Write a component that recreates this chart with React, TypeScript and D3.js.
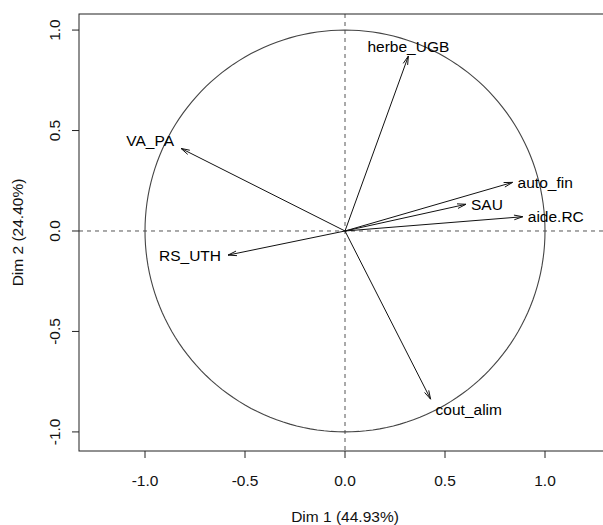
import React from "react";
import * as d3 from "d3";

// ---- data ----
const variables = ["herbe_UGB", "VA_PA", "auto_fin", "SAU", "aide.RC", "RS_UTH", "cout_alim"];
const dim1 = [0.317, -0.82, 0.838, 0.605, 0.889, -0.585, 0.428];
const dim2 = [0.871, 0.411, 0.242, 0.133, 0.071, -0.12, -0.837];
const labelSide = ["top", "left", "right", "right", "right", "left", "right"];
const xTicks = [-1.0, -0.5, 0.0, 0.5, 1.0];
const yTicks = [-1.0, -0.5, 0.0, 0.5, 1.0];
const xTitle = "Dim 1 (44.93%)";
const yTitle = "Dim 2 (24.40%)";

// ---- layout / style ----
const W = 603;
const H = 525;
const left = 79;
const right = 611;
const top = 14;
const bottom = 451;
const FONT = "'Liberation Sans', Arial, sans-serif";
const FS = 15.5;
const labelNudge: Record<string, [number, number]> = {
  VA_PA: [0, -8],
  cout_alim: [0, 10],
};

export default function App() {
  const x = d3.scaleLinear().domain([-1.33, 1.33]).range([left, right]);
  const y = d3.scaleLinear().domain([-1.095, 1.08]).range([bottom, top]);

  const circlePts = d3.range(0, 361, 2).map((a) => {
    const r = (a * Math.PI) / 180;
    return [x(Math.cos(r)), y(Math.sin(r))] as [number, number];
  });
  const circlePath = d3.line()(circlePts) || "";

  const headLen = 9;
  const headAng = (15 * Math.PI) / 180;

  return (
    <div style={{ position: "absolute", left: 0, top: 0 }}>
      <svg width={W} height={H} style={{ display: "block", background: "#fff" }}>
        <rect x={0} y={0} width={W} height={H} fill="#fff" />
        {/* dashed axes */}
        <line x1={left} x2={right} y1={y(0)} y2={y(0)} stroke="#555" strokeDasharray="4,4" strokeWidth={1} />
        <line x1={x(0)} x2={x(0)} y1={top} y2={bottom} stroke="#555" strokeDasharray="4,4" strokeWidth={1} />
        {/* circle */}
        <path d={circlePath} fill="none" stroke="#444" strokeWidth={1.1} />
        {/* arrows */}
        {variables.map((v, i) => {
          const x0 = x(0), y0 = y(0);
          const x1 = x(dim1[i]), y1 = y(dim2[i]);
          const ang = Math.atan2(y1 - y0, x1 - x0);
          const h1 = [x1 - headLen * Math.cos(ang - headAng), y1 - headLen * Math.sin(ang - headAng)];
          const h2 = [x1 - headLen * Math.cos(ang + headAng), y1 - headLen * Math.sin(ang + headAng)];
          const side = labelSide[i];
          const nudge = labelNudge[v] || [0, 0];
          let lx = x1, ly = y1, anchor: "start" | "end" | "middle" = "middle";
          if (side === "right") { lx = x1 + 5; anchor = "start"; }
          else if (side === "left") { lx = x1 - 7; anchor = "end"; }
          else if (side === "top") { ly = y1 - 9; anchor = "middle"; }
          lx += nudge[0];
          ly += nudge[1];
          return (
            <g key={v}>
              <line x1={x0} y1={y0} x2={x1} y2={y1} stroke="#111" strokeWidth={1} />
              <path d={`M${h1[0]},${h1[1]}L${x1},${y1}L${h2[0]},${h2[1]}`} fill="none" stroke="#111" strokeWidth={1} />
              <text x={lx} y={ly} dy="0.35em" textAnchor={anchor} fontFamily={FONT} fontSize={FS} fill="#000">{v}</text>
            </g>
          );
        })}
        {/* box */}
        <rect x={left} y={top} width={right - left} height={bottom - top} fill="none" stroke="#222" strokeWidth={1} />
        {/* x axis */}
        {xTicks.map((t) => (
          <g key={"x" + t}>
            <line x1={x(t)} x2={x(t)} y1={bottom} y2={bottom + 7} stroke="#222" />
            <text x={x(t)} y={bottom + 30} dy="0.35em" textAnchor="middle" fontFamily={FONT} fontSize={FS} fill="#111">{t.toFixed(1)}</text>
          </g>
        ))}
        {/* y axis */}
        {yTicks.map((t) => (
          <g key={"y" + t}>
            <line x1={left} x2={left - 7} y1={y(t)} y2={y(t)} stroke="#222" />
            <text transform={`translate(${left - 24},${y(t)}) rotate(-90)`} dy="0.35em" textAnchor="middle" fontFamily={FONT} fontSize={FS} fill="#111">{t.toFixed(1)}</text>
          </g>
        ))}
        <text x={(left + right) / 2} y={517} dy="0.35em" textAnchor="middle" fontFamily={FONT} fontSize={FS} fill="#111">{xTitle}</text>
        <text transform={`translate(18,${(top + bottom) / 2}) rotate(-90)`} dy="0.35em" textAnchor="middle" fontFamily={FONT} fontSize={FS} fill="#111">{yTitle}</text>
      </svg>
    </div>
  );
}
